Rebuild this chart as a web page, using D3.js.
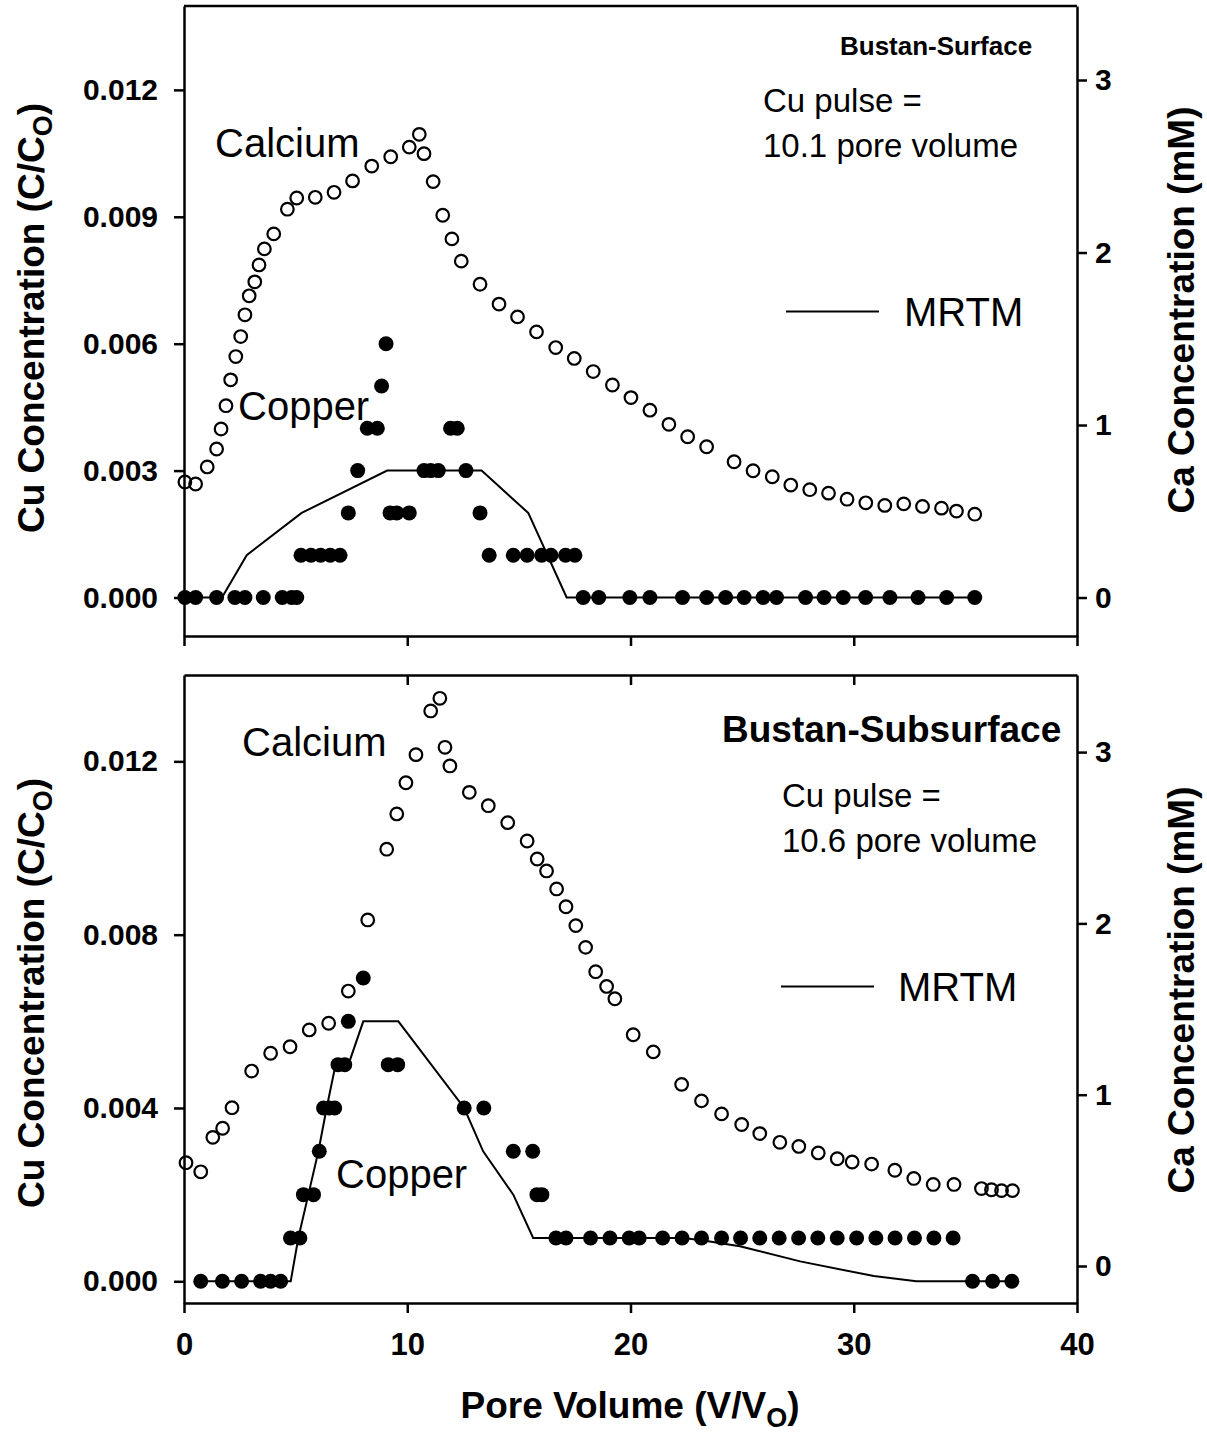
<!DOCTYPE html>
<html><head><meta charset="utf-8">
<script src="https://cdn.jsdelivr.net/npm/d3@7"></script>
<style>
body{margin:0;background:#fff}
svg{display:block}
text{font-family:"Liberation Sans",Arial,Helvetica,sans-serif;fill:#000}
</style>
</head><body>
<svg id="chart" width="1207" height="1433"></svg>
<script>
// ---------------- DATA ----------------
const xTicks = [0, 10, 20, 30, 40];
const caTicks = [0, 1, 2, 3];
const topCuTicks = [0, 0.003, 0.006, 0.009, 0.012];
const bottomCuTicks = [0, 0.004, 0.008, 0.012];

// [pore volume, Ca mM]
const topCalcium = [[0.04,0.670],[0.52,0.658],[1.04,0.757],[1.46,0.861],[1.66,0.977],[1.88,1.112],[2.09,1.262],[2.32,1.397],[2.54,1.513],[2.73,1.639],[2.92,1.749],[3.17,1.830],[3.36,1.928],[3.60,2.021],[4.02,2.108],[4.63,2.251],[5.05,2.316],[5.88,2.320],[6.72,2.349],[7.55,2.415],[8.41,2.501],[9.26,2.555],[10.09,2.611],[10.54,2.685],[10.75,2.573],[11.16,2.411],[11.59,2.216],[12.00,2.079],[12.42,1.950],[13.26,1.816],[14.11,1.701],[14.94,1.627],[15.79,1.540],[16.65,1.449],[17.48,1.386],[18.33,1.310],[19.19,1.232],[20.02,1.159],[20.87,1.086],[21.72,1.004],[22.56,0.932],[23.41,0.874],[24.64,0.787],[25.49,0.735],[26.35,0.700],[27.18,0.652],[28.03,0.625],[28.87,0.605],[29.70,0.570],[30.54,0.549],[31.39,0.534],[32.24,0.543],[33.08,0.528],[33.93,0.518],[34.60,0.501],[35.42,0.483]];

// [pore volume, Cu C/Co]
const topCopper = [[0.04,0],[0.52,0],[1.46,0],[2.28,0],[2.73,0],[3.55,0],[4.40,0],[4.82,0],[5.05,0],[5.24,0.001],[5.69,0.001],[6.12,0.001],[6.55,0.001],[6.99,0.001],[7.36,0.002],[7.78,0.003],[8.21,0.004],[8.66,0.004],[8.85,0.005],[9.05,0.006],[9.23,0.002],[9.53,0.002],[10.09,0.002],[10.75,0.003],[11.05,0.003],[11.39,0.003],[11.94,0.004],[12.24,0.004],[12.63,0.003],[13.26,0.002],[13.67,0.001],[14.75,0.001],[15.37,0.001],[16.02,0.001],[16.44,0.001],[17.09,0.001],[17.51,0.001],[17.88,0],[18.58,0],[19.97,0],[20.87,0],[22.33,0],[23.41,0],[24.26,0],[25.09,0],[25.94,0],[26.54,0],[27.84,0],[28.67,0],[29.53,0],[30.53,0],[31.62,0],[32.88,0],[34.16,0],[35.42,0]];

const topMRTM = [[0.04,0],[1.70,0],[2.81,0.001],[5.27,0.002],[9.10,0.003],[13.33,0.003],[15.42,0.002],[17.14,0],[35.42,0]];

const bottomCalcium = [[0.09,0.603],[0.75,0.550],[1.29,0.751],[1.73,0.804],[2.15,0.924],[3.03,1.138],[3.88,1.242],[4.75,1.280],[5.61,1.378],[6.48,1.417],[7.36,1.605],[8.23,2.020],[9.08,2.433],[9.53,2.639],[9.94,2.821],[10.39,2.985],[11.05,3.240],[11.46,3.314],[11.69,3.028],[11.91,2.919],[12.78,2.765],[13.63,2.687],[14.50,2.588],[15.37,2.481],[15.82,2.376],[16.24,2.306],[16.69,2.201],[17.11,2.097],[17.55,1.987],[17.99,1.860],[18.44,1.718],[18.93,1.632],[19.30,1.560],[20.12,1.350],[21.02,1.250],[22.29,1.060],[23.18,0.964],[24.08,0.888],[24.98,0.826],[25.79,0.773],[26.69,0.722],[27.54,0.698],[28.41,0.660],[29.26,0.626],[29.93,0.607],[30.80,0.595],[31.84,0.559],[32.69,0.511],[33.56,0.476],[34.49,0.476],[35.72,0.452],[36.17,0.445],[36.62,0.440],[37.11,0.440]];

const bottomCopper = [[0.75,0],[1.72,0],[2.58,0],[3.43,0],[3.88,0],[4.33,0],[4.77,0.001],[5.19,0.001],[5.35,0.002],[5.80,0.002],[6.06,0.003],[6.25,0.004],[6.50,0.004],[6.75,0.004],[6.90,0.005],[7.20,0.005],[7.36,0.006],[8.03,0.007],[9.15,0.005],[9.57,0.005],[12.55,0.004],[13.43,0.004],[14.75,0.003],[15.62,0.003],[15.81,0.002],[16.03,0.002],[16.66,0.001],[17.11,0.001],[18.21,0.001],[19.08,0.001],[19.94,0.001],[20.39,0.001],[21.44,0.001],[22.31,0.001],[23.18,0.001],[24.08,0.001],[24.93,0.001],[25.79,0.001],[26.66,0.001],[27.53,0.001],[28.39,0.001],[29.26,0.001],[30.13,0.001],[30.99,0.001],[31.85,0.001],[32.72,0.001],[33.59,0.001],[34.45,0.001],[35.32,0],[36.22,0],[37.08,0]];

const bottomMRTM = [[0.75,0],[4.78,0],[5.12,0.001],[5.57,0.002],[6.02,0.003],[6.39,0.004],[6.79,0.005],[7.43,0.0051],[8.03,0.006],[9.60,0.006],[12.55,0.004],[13.40,0.003],[14.75,0.002],[15.64,0.001],[22.40,0.001],[23.55,0.00092],[24.90,0.00081],[27.60,0.00046],[30.90,0.00012],[32.80,0],[37.08,0]];

// ---------------- LAYOUT ----------------
const svg = d3.select("#chart");
const X0 = 184, X1 = 1077;
const x = d3.scaleLinear().domain([0, 40]).range([X0, X1]);

const panels = [
  { y0: 6, y1: 636, cuDomain: [-0.00091, 0.013983], caDomain: [-0.223, 3.429],
    cuTicks: topCuTicks, calcium: topCalcium, copper: topCopper, mrtm: topMRTM, xLabels: false },
  { y0: 675, y1: 1303, cuDomain: [-0.000501, 0.013993], caDomain: [-0.216, 3.450],
    cuTicks: bottomCuTicks, calcium: bottomCalcium, copper: bottomCopper, mrtm: bottomMRTM, xLabels: true }
];

const AX = 2.5;
function styleAxis(g, fs) {
  g.selectAll("path.domain").attr("stroke", "#000").attr("stroke-width", AX);
  g.selectAll(".tick line").attr("stroke", "#000").attr("stroke-width", AX);
  g.selectAll(".tick text").attr("font-size", fs).attr("font-weight", "bold")
    .attr("font-family", '"Liberation Sans",Arial,sans-serif').attr("fill", "#000");
}

panels.forEach((p, i) => {
  const yCu = d3.scaleLinear().domain(p.cuDomain).range([p.y1, p.y0]);
  const yCa = d3.scaleLinear().domain(p.caDomain).range([p.y1, p.y0]);
  const g = svg.append("g");

  // frame top
  if (i === 0) {
    g.append("line").attr("x1", X0).attr("x2", X1).attr("y1", p.y0).attr("y2", p.y0)
      .attr("stroke", "#000").attr("stroke-width", AX);
  } else {
    const gt = g.append("g").attr("transform", `translate(0,${p.y0})`)
      .call(d3.axisTop(x).tickValues([10, 20, 30]).tickSize(-10).tickSizeOuter(0).tickFormat(""));
    styleAxis(gt, 30);
  }

  // left axis
  const gl = g.append("g").attr("transform", `translate(${X0},0)`)
    .call(d3.axisLeft(yCu).tickValues(p.cuTicks).tickFormat(d3.format(".3f"))
      .tickSize(10).tickPadding(16).tickSizeOuter(0));
  styleAxis(gl, 30);

  // right axis
  const gr = g.append("g").attr("transform", `translate(${X1},0)`)
    .call(d3.axisRight(yCa).tickValues(caTicks).tickFormat(d3.format("d"))
      .tickSize(10).tickPadding(8).tickSizeOuter(0));
  styleAxis(gr, 30);

  // bottom axis
  const gb = g.append("g").attr("transform", `translate(0,${p.y1})`)
    .call(d3.axisBottom(x).tickValues(xTicks).tickSize(10).tickPadding(20).tickSizeOuter(0)
      .tickFormat(p.xLabels ? d3.format("d") : ""));
  styleAxis(gb, 31);

  // MRTM line
  g.append("path").datum(p.mrtm)
    .attr("d", d3.line().x(d => x(d[0])).y(d => yCu(d[1])))
    .attr("fill", "none").attr("stroke", "#000").attr("stroke-width", 2);

  // Calcium (open circles)
  g.append("g").selectAll("circle").data(p.calcium).join("circle")
    .attr("cx", d => x(d[0])).attr("cy", d => yCa(d[1])).attr("r", 6.3)
    .attr("fill", "none").attr("stroke", "#000").attr("stroke-width", 2.2);

  // Copper (filled circles)
  g.append("g").selectAll("circle").data(p.copper).join("circle")
    .attr("cx", d => x(d[0])).attr("cy", d => yCu(d[1])).attr("r", 7.5)
    .attr("fill", "#000");
});

// ---------------- TEXT ----------------
function txt(xp, yp, s, fs, bold, anchor) {
  return svg.append("text").attr("x", xp).attr("y", yp).attr("font-size", fs)
    .attr("font-weight", bold ? "bold" : "normal").attr("text-anchor", anchor || "start").text(s);
}

// top panel annotations
txt(840, 55, "Bustan-Surface", 26, true);
txt(763, 112, "Cu pulse =", 33, false);
txt(763, 157, "10.1 pore volume", 33, false);
txt(215, 157, "Calcium", 40, false);
txt(238, 420, "Copper", 40, false);
svg.append("line").attr("x1", 786).attr("x2", 879).attr("y1", 311.5).attr("y2", 311.5)
  .attr("stroke", "#000").attr("stroke-width", 2);
txt(904, 326, "MRTM", 40, false);

// bottom panel annotations
txt(722, 742, "Bustan-Subsurface", 37, true);
txt(782, 807, "Cu pulse =", 33, false);
txt(782, 852, "10.6 pore volume", 33, false);
txt(242, 756, "Calcium", 40, false);
txt(336, 1188, "Copper", 40, false);
svg.append("line").attr("x1", 781).attr("x2", 874).attr("y1", 986.5).attr("y2", 986.5)
  .attr("stroke", "#000").attr("stroke-width", 2);
txt(898, 1001, "MRTM", 40, false);

// axis titles
function cuTitle(cy) {
  const t = svg.append("text").attr("transform", `translate(44,${cy}) rotate(-90)`)
    .attr("text-anchor", "middle").attr("font-size", 37).attr("font-weight", "bold");
  t.append("tspan").text("Cu Concentration (C/C");
  t.append("tspan").attr("font-size", 27).attr("dy", 8).text("O");
  t.append("tspan").attr("dy", -8).text(")");
}
function caTitle(cy) {
  svg.append("text").attr("transform", `translate(1194,${cy}) rotate(-90)`)
    .attr("text-anchor", "middle").attr("font-size", 37).attr("font-weight", "bold")
    .text("Ca Concentration (mM)");
}
cuTitle(318); cuTitle(993);
caTitle(310); caTitle(990);

const xl = svg.append("text").attr("x", 630).attr("y", 1418).attr("text-anchor", "middle")
  .attr("font-size", 37).attr("font-weight", "bold");
xl.append("tspan").text("Pore Volume (V/V");
xl.append("tspan").attr("font-size", 27).attr("dy", 9).text("O");
xl.append("tspan").attr("dy", -9).text(")");
</script>
</body></html>
